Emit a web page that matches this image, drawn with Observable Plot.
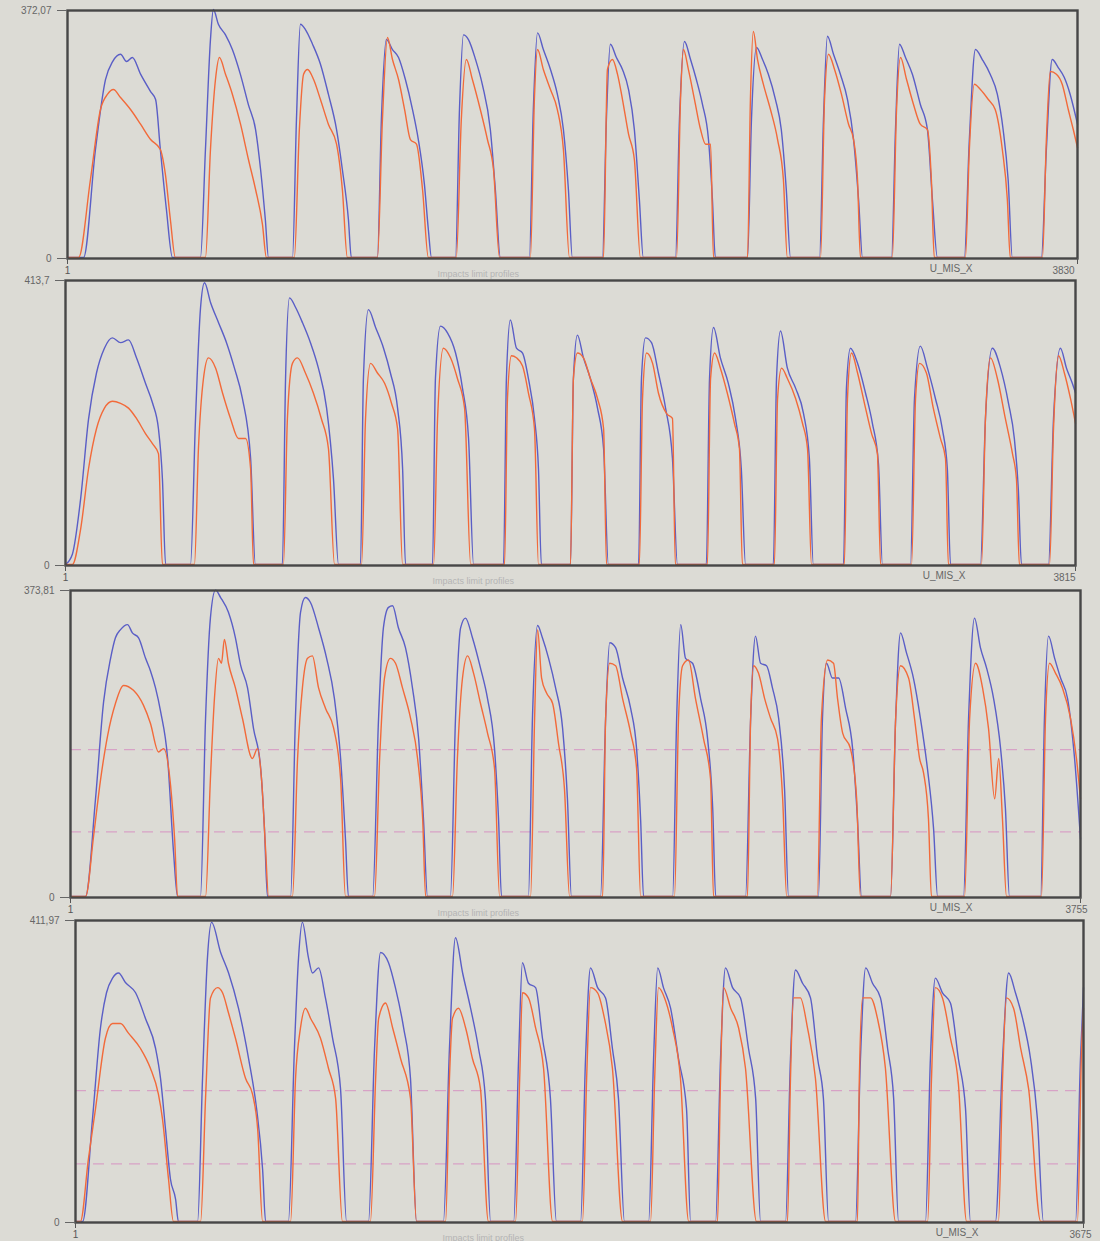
<!DOCTYPE html>
<html><head><meta charset="utf-8">
<script src="https://cdn.jsdelivr.net/npm/d3@7"></script>
<script src="https://cdn.jsdelivr.net/npm/@observablehq/plot@0.6"></script>
<style>
html,body{margin:0;padding:0;background:#dcdbd5;}
#wrap{position:relative;width:1100px;height:1241px;background:#dcdbd5;overflow:hidden;}
#wrap svg{position:absolute;left:0;overflow:visible;}
</style></head><body><div id="wrap"></div>
<script>
// ---- data (x = sample index, y = value) ----
const panelMax = [372.07, 413.7, 373.81, 411.97];
const panelLength = [3830, 3815, 3755, 3675];
const thresholds = [80, 180];
const xLabel = "U_MIS_X";
const noteLabel = "Impacts limit profiles";

const p1Blue = [
 [62,0,107,162,145,267,172,294,202,305,225,294,247,300,278,275,316,249,335,237,353,162,376,72,399,0],
 [505,0,524,162,543,327,554,372,573,350,600,334,626,312,657,274,687,229,714,192,733,132,751,57,763,0],
 [854,0,869,207,884,350,903,342,930,320,960,290,990,245,1021,192,1043,132,1066,57,1077,0],
 [1176,0,1191,207,1210,327,1233,312,1256,300,1282,267,1309,222,1331,177,1354,110,1369,42,1381,0],
 [1472,0,1487,222,1502,334,1521,327,1548,297,1574,259,1604,192,1623,102,1642,0],
 [1752,0,1767,222,1783,337,1805,312,1832,282,1858,245,1881,192,1900,102,1915,0],
 [2029,0,2044,207,2059,320,2082,300,2105,282,2128,252,2150,192,2169,87,2184,0],
 [2306,0,2321,207,2340,324,2363,297,2385,267,2408,230,2431,177,2446,87,2457,0],
 [2579,0,2594,207,2613,315,2636,297,2658,275,2685,237,2707,192,2726,102,2742,0],
 [2852,0,2867,207,2882,332,2905,305,2931,275,2958,237,2981,177,3000,87,3015,0],
 [3125,0,3140,192,3155,320,3178,300,3204,275,3234,230,3261,192,3280,87,3299,0],
 [3401,0,3420,177,3443,312,3469,297,3499,275,3526,245,3548,192,3567,117,3583,0],
 [3693,0,3712,162,3734,297,3757,285,3780,270,3802,245,3830,200]
];
const p1Orange = [
 [43,0,88,117,126,222,153,245,175,252,202,240,240,222,278,200,316,177,353,162,372,125,391,57,410,0],
 [524,0,543,162,562,267,577,300,600,275,626,245,657,200,687,147,714,102,740,50,755,0],
 [861,0,880,192,896,275,911,282,934,267,960,237,990,200,1021,170,1043,102,1062,0],
 [1176,0,1195,207,1214,330,1233,297,1256,267,1279,222,1301,177,1324,170,1347,102,1369,0],
 [1475,0,1494,207,1513,297,1536,267,1566,222,1593,177,1616,132,1639,0],
 [1756,0,1771,237,1783,312,1805,282,1832,252,1858,222,1881,162,1904,0],
 [2033,0,2048,282,2067,297,2086,275,2105,237,2128,185,2150,147,2173,0],
 [2310,0,2325,237,2336,312,2355,282,2378,237,2401,192,2420,170,2439,170,2450,0],
 [2579,0,2590,237,2601,339,2617,297,2639,260,2666,222,2693,177,2715,117,2730,0],
 [2856,0,2871,237,2886,305,2909,282,2935,245,2962,200,2981,177,2996,117,3007,0],
 [3128,0,3144,222,3159,300,3182,267,3208,230,3234,200,3261,192,3276,117,3287,0],
 [3405,0,3420,162,3439,260,3462,252,3492,237,3518,222,3545,162,3564,87,3575,0],
 [3697,0,3712,177,3727,279,3750,275,3772,260,3795,222,3814,192,3830,165]
];

const p2Blue = [
 [1,0,27,15,58,95,88,211,118,278,148,314,178,329,209,322,239,326,269,300,303,263,330,234,352,197,367,124,379,0],
 [473,0,492,212,511,373,526,409,549,380,579,351,609,322,639,285,669,241,700,154,718,0],
 [820,0,832,270,847,387,870,373,896,351,926,322,956,285,987,227,1013,124,1032,0],
 [1115,0,1126,270,1145,370,1172,344,1202,314,1228,278,1255,227,1274,139,1285,0],
 [1387,0,1398,270,1417,346,1444,336,1474,307,1500,256,1523,183,1542,0],
 [1655,0,1666,270,1681,355,1704,314,1727,307,1749,270,1772,212,1787,139,1798,0],
 [1908,0,1919,270,1934,333,1957,300,1983,270,2010,227,2033,168,2051,0],
 [2165,0,2176,270,2191,329,2214,322,2240,278,2267,227,2293,154,2312,0],
 [2421,0,2433,270,2448,344,2474,300,2504,263,2531,212,2553,139,2569,0],
 [2674,0,2686,270,2701,339,2727,285,2758,256,2788,219,2810,154,2825,0],
 [2939,0,2950,256,2965,314,2992,292,3022,249,3048,205,3071,146,3086,0],
 [3192,0,3207,241,3229,317,3256,285,3286,241,3312,197,3331,139,3343,0],
 [3456,0,3475,212,3501,314,3532,285,3562,234,3584,183,3599,110,3611,0],
 [3713,0,3732,212,3758,314,3781,285,3803,263,3815,249]
];
const p2Orange = [
 [27,0,58,51,88,139,118,197,148,227,178,237,209,234,239,227,269,212,303,190,330,175,352,161,367,0],
 [488,0,503,168,522,270,541,300,568,285,594,249,624,212,654,183,681,183,700,139,711,0],
 [824,0,839,212,858,292,877,300,907,278,937,249,967,212,994,168,1017,0],
 [1119,0,1134,212,1153,292,1179,278,1206,263,1232,234,1255,197,1274,0],
 [1391,0,1406,212,1428,314,1455,300,1481,270,1508,227,1531,0],
 [1659,0,1670,241,1685,303,1704,300,1727,288,1749,249,1772,197,1787,0],
 [1908,0,1919,270,1934,307,1957,300,1983,270,2010,241,2033,197,2044,0],
 [2168,0,2180,241,2195,307,2218,292,2240,249,2271,219,2293,212,2304,0],
 [2425,0,2437,270,2452,307,2474,285,2500,249,2527,205,2546,168,2557,0],
 [2678,0,2690,241,2705,285,2727,270,2758,241,2784,205,2803,168,2818,0],
 [2942,0,2954,241,2969,307,2992,278,3018,234,3045,190,3067,161,3079,0],
 [3196,0,3211,241,3226,292,3252,278,3278,227,3305,183,3324,154,3335,0],
 [3460,0,3475,212,3494,300,3520,270,3550,212,3577,161,3592,124,3603,0],
 [3717,0,3732,197,3751,303,3773,278,3796,241,3815,205]
];

const p3Blue = [
 [57,0,94,119,124,237,150,290,168,315,187,325,213,331,231,321,254,315,280,290,298,275,317,254,336,225,362,168,384,54,399,0],
 [484,0,503,217,521,339,540,373,559,364,588,346,614,315,633,282,659,254,681,205,707,159,722,82,733,0],
 [819,0,837,217,856,346,874,364,893,358,923,327,953,290,982,241,1005,168,1023,70,1034,0],
 [1124,0,1146,217,1164,327,1183,352,1198,354,1220,327,1246,303,1272,254,1295,192,1313,94,1328,0],
 [1413,0,1432,217,1451,327,1469,339,1495,315,1525,278,1551,241,1577,180,1592,94,1603,0],
 [1703,0,1718,217,1737,330,1755,315,1778,290,1804,254,1830,205,1848,119,1863,0],
 [1971,0,1990,217,2005,309,2027,303,2053,266,2083,229,2105,180,2120,94,2131,0],
 [2239,0,2254,217,2269,331,2287,290,2313,284,2343,241,2369,192,2388,107,2399,0],
 [2510,0,2529,217,2547,317,2566,284,2588,281,2610,254,2633,217,2655,131,2670,0],
 [2781,0,2796,217,2811,284,2833,266,2856,266,2882,229,2908,180,2926,94,2941,0],
 [3049,0,3068,217,3086,321,3108,297,3134,266,3160,217,3186,156,3209,82,3224,0],
 [3320,0,3339,217,3361,339,3383,303,3406,278,3432,241,3458,180,3476,107,3491,0],
 [3607,0,3621,217,3636,317,3659,290,3681,266,3707,241,3733,168,3755,70]
];
const p3Orange = [
 [57,0,87,74,113,143,139,196,168,235,198,257,235,251,272,233,298,211,328,176,347,180,373,135,388,70,399,0],
 [503,0,521,143,536,241,551,290,562,284,573,313,588,284,614,254,640,217,677,168,696,180,711,143,726,58,737,0],
 [826,0,845,168,863,254,882,290,900,293,923,254,949,229,979,205,1005,143,1023,0],
 [1131,0,1150,168,1168,266,1190,290,1209,284,1235,254,1265,217,1291,168,1310,94,1321,0],
 [1421,0,1439,168,1458,266,1477,293,1499,272,1525,235,1551,199,1577,156,1596,0],
 [1711,0,1726,217,1737,325,1752,266,1770,248,1793,235,1815,186,1837,131,1856,0],
 [1979,0,1990,217,2005,284,2027,281,2053,241,2083,199,2105,156,2120,0],
 [2246,0,2261,217,2276,281,2298,288,2324,241,2354,192,2380,143,2391,0],
 [2517,0,2529,217,2540,281,2558,272,2581,241,2603,217,2629,192,2648,119,2663,0],
 [2777,0,2792,217,2815,288,2837,284,2852,241,2871,199,2900,180,2923,119,2937,0],
 [3049,0,3068,217,3086,281,3116,266,3138,217,3157,168,3172,150,3190,94,3201,0],
 [3324,0,3343,217,3365,284,3391,254,3413,205,3436,119,3451,168,3465,94,3480,0],
 [3610,0,3625,217,3640,284,3662,272,3688,254,3718,217,3740,168,3755,119]
];

const p4Blue = [
 [27,0,63,140,92,264,114,312,136,332,158,339,183,326,220,312,256,277,293,236,311,195,329,126,347,58,366,30,376,0],
 [446,0,464,195,482,360,497,408,530,367,559,339,595,291,632,222,661,154,683,71,694,0],
 [777,0,799,236,814,360,828,408,850,360,865,339,887,346,912,305,938,250,967,181,989,0],
 [1069,0,1091,236,1113,367,1142,353,1167,319,1197,264,1222,195,1244,0],
 [1342,0,1364,236,1386,387,1412,339,1441,291,1470,236,1495,168,1514,0],
 [1598,0,1616,222,1630,353,1652,325,1678,319,1703,250,1732,168,1754,0],
 [1842,0,1860,222,1878,346,1904,319,1933,305,1958,236,1980,168,2002,0],
 [2090,0,2108,222,2123,346,2144,319,2170,291,2199,222,2228,154,2243,0],
 [2334,0,2352,222,2370,346,2396,319,2425,305,2454,236,2480,168,2498,0],
 [2589,0,2607,222,2625,343,2651,325,2680,305,2706,222,2727,168,2746,0],
 [2844,0,2862,222,2881,346,2906,325,2935,305,2961,236,2983,168,3001,0],
 [3099,0,3117,222,3135,332,3161,312,3190,298,3219,222,3245,154,3263,0],
 [3354,0,3380,222,3402,339,3427,312,3453,277,3482,222,3507,140,3529,0],
 [3646,0,3664,222,3675,319]
];
const p4Orange = [
 [19,0,48,85,74,154,110,250,136,270,165,270,194,257,238,236,274,209,303,174,318,140,340,58,358,0],
 [457,0,475,168,493,305,519,319,537,312,559,284,584,250,621,195,646,174,665,126,683,0],
 [785,0,803,195,821,264,839,291,858,277,894,250,923,209,949,168,974,0],
 [1076,0,1095,195,1106,277,1131,298,1157,264,1186,222,1222,168,1244,0],
 [1350,0,1364,195,1375,277,1397,291,1423,264,1448,222,1477,181,1506,0],
 [1605,0,1620,195,1630,312,1652,305,1678,264,1707,209,1740,0],
 [1849,0,1864,195,1878,319,1904,312,1929,277,1958,209,1995,0],
 [2097,0,2112,195,2126,319,2148,305,2177,264,2206,195,2236,0],
 [2341,0,2352,195,2363,319,2389,291,2418,264,2443,209,2483,0],
 [2596,0,2607,195,2618,305,2643,305,2669,264,2698,195,2735,0],
 [2851,0,2858,195,2870,305,2899,305,2924,277,2953,209,2990,0],
 [3107,0,3121,195,3135,319,3161,305,3190,250,3219,188,3249,0],
 [3365,0,3380,195,3394,305,3420,291,3446,236,3475,181,3519,0],
 [3653,0,3668,236,3675,291]
];

// ---- layout (page pixels) ----
const layout = [
 {top:0,   height:280, ml:67, mr:23, mt:10, mb:22, endDx:-14, umisDx:-105, noteDx:370},
 {top:268, height:320, ml:65, mr:25, mt:12, mb:23, endDx:-11, umisDx:-110, noteDx:367},
 {top:578, height:340, ml:70, mr:20, mt:12, mb:21, endDx:-4,  umisDx:-108, noteDx:367},
 {top:908, height:333, ml:75, mr:17, mt:12, mb:19, endDx:-3,  umisDx:-105, noteDx:367}
];
const blueColor = "#5a5ec6";
const orangeColor = "#f26a3a";

function rowsFrom(pulses) {
  const rows = [];
  if (pulses[0][0] > 1) rows.push({x: 1, y: 0});
  for (const p of pulses) for (let i = 0; i < p.length; i += 2) rows.push({x: p[i], y: p[i + 1]});
  return rows;
}
const panels = [
  {blue: p1Blue, orange: p1Orange, dashed: false},
  {blue: p2Blue, orange: p2Orange, dashed: false},
  {blue: p3Blue, orange: p3Orange, dashed: true},
  {blue: p4Blue, orange: p4Orange, dashed: true}
];
const fmtY = d => d === 0 ? "0" : String(d).replace(".", ",");
const wrap = document.getElementById("wrap");

panels.forEach((p, i) => {
  const L = layout[i];
  const max = panelMax[i], len = panelLength[i];
  const chart = Plot.plot({
    width: 1100, height: L.height,
    marginLeft: L.ml, marginRight: L.mr, marginTop: L.mt, marginBottom: L.mb,
    style: {background: "transparent", fontFamily: "'Liberation Sans', Arial, sans-serif", fontSize: "10px"},
    x: {domain: [1, len]},
    y: {domain: [0, max]},
    marks: [
      p.dashed ? Plot.ruleY(thresholds, {stroke: "#d7a2c6", strokeWidth: 1.2, strokeDasharray: "11,7"}) : null,
      Plot.line(rowsFrom(p.blue), {x: "x", y: "y", stroke: blueColor, strokeWidth: 1.4, curve: "monotone-x", dy: -1}),
      Plot.line(rowsFrom(p.orange), {x: "x", y: "y", stroke: orangeColor, strokeWidth: 1.4, curve: "monotone-x", dy: -1}),
      Plot.frame({stroke: "#474747", strokeWidth: 2.4}),
      Plot.axisY({ticks: [0, max], tickFormat: fmtY, tickSize: 10, tickPadding: 6, color: "#666", fontSize: 10, label: null}),
      Plot.axisX({ticks: [1, len], tickFormat: d => d === 1 ? "1" : "", tickSize: 6, tickPadding: 2, color: "#555", fontSize: 10, label: null}),
      Plot.axisX({ticks: [len], tickFormat: d => String(d), tickSize: 0, tickPadding: 8, color: "#666", fontSize: 10, label: null, dx: L.endDx}),
      Plot.text([xLabel], {text: d => d, frameAnchor: "bottom-right", dx: L.umisDx, dy: 13, fill: "#666", fontSize: 10}),
      Plot.text([noteLabel], {text: d => d, frameAnchor: "bottom-left", dx: L.noteDx, dy: 18, fill: "#b4b4b4", fontSize: 9})
    ]
  });
  chart.style.top = L.top + "px";
  wrap.appendChild(chart);
});
</script></body></html>
